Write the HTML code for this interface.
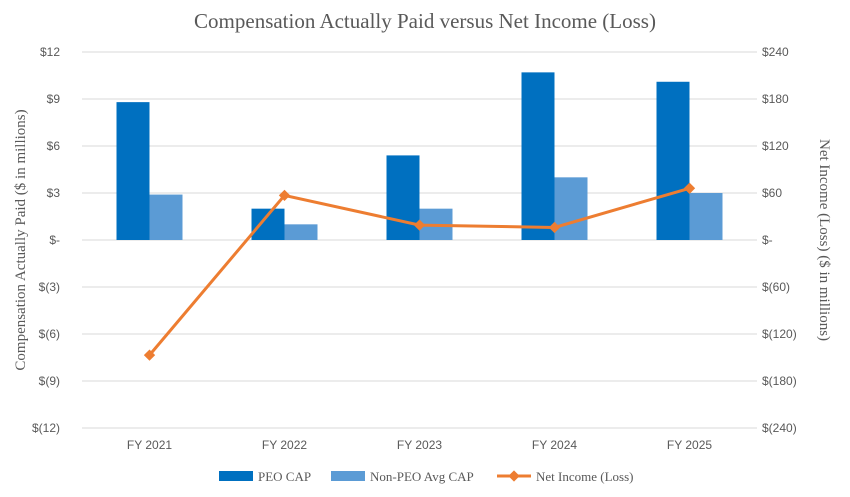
<!DOCTYPE html>
<html><head><meta charset="utf-8"><style>
body{margin:0;background:#fff;}
svg{display:block;}
</style></head><body>
<svg id="chart" width="850" height="497">
<text x="425" y="28" text-anchor="middle" font-family="Liberation Serif, serif" font-size="21" fill="#595959">Compensation Actually Paid versus Net Income (Loss)</text>
<g id="grid"></g><g id="bars"></g><g id="line"></g><g id="axes"></g>
<text transform="translate(25,240) rotate(-90)" text-anchor="middle" font-family="Liberation Serif, serif" font-size="15" fill="#595959">Compensation Actually Paid ($ in millions)</text>
<text transform="translate(820,240) rotate(90)" text-anchor="middle" font-family="Liberation Serif, serif" font-size="15" fill="#595959">Net Income (Loss) ($ in millions)</text>
<g font-family="Liberation Serif, serif" font-size="13" fill="#595959">
<rect x="219" y="471" width="34" height="10" fill="#0070C0"/>
<text x="258" y="481">PEO CAP</text>
<rect x="331" y="471" width="34" height="10" fill="#5B9BD5"/>
<text x="370" y="481">Non-PEO Avg CAP</text>
<line x1="497" y1="476" x2="531" y2="476" stroke="#ED7D31" stroke-width="3"/>
<rect x="510" y="472" width="8" height="8" fill="#ED7D31" transform="rotate(45 514 476)"/>
<text x="536" y="481">Net Income (Loss)</text>
</g>
</svg>
<script>
const categories=["FY 2021","FY 2022","FY 2023","FY 2024","FY 2025"];
const peoCap=[8.8,2.0,5.4,10.7,10.1];
const nonPeoCap=[2.9,1.0,2.0,4.0,3.0];
const netIncome=[-147,57,19,16,66];
const leftTicks=[12,9,6,3,0,-3,-6,-9,-12];
const leftTickLabels=["$12","$9","$6","$3","$-","$(3)","$(6)","$(9)","$(12)"];
const rightTicks=[240,180,120,60,0,-60,-120,-180,-240];
const rightTickLabels=["$240","$180","$120","$60","$-","$(60)","$(120)","$(180)","$(240)"];

const NS="http://www.w3.org/2000/svg";
const X0=82,X1=757,Y0=52,Y1=428;
const yL=v=>Y0+(12-v)/24*(Y1-Y0);
const yR=v=>Y0+(240-v)/480*(Y1-Y0);
const bw=(X1-X0)/categories.length;
const xC=i=>X0+bw*(i+0.5);
function mk(tag,attrs,parent){const e=document.createElementNS(NS,tag);for(const k in attrs)e.setAttribute(k,attrs[k]);document.getElementById(parent).appendChild(e);return e;}
leftTicks.forEach((t,i)=>{
 const g=mk('line',{x1:X0,x2:X1,y1:yL(t),y2:yL(t),stroke:'#D9D9D9','stroke-width':1},'grid');
 
 
 const l=mk('text',{x:60,y:yL(t)+4,'text-anchor':'end','font-family':'Liberation Sans, sans-serif','font-size':12,fill:'#595959'},'axes');
 l.textContent=leftTickLabels[i];
 
 
});
rightTicks.forEach((t,i)=>{
 const l=mk('text',{x:762,y:yR(t)+4,'text-anchor':'start','font-family':'Liberation Sans, sans-serif','font-size':12,fill:'#595959'},'axes');
 l.textContent=rightTickLabels[i];
 
 
});
const barW=33;
categories.forEach((c,i)=>{
 const x=xC(i);
 const b1=mk('rect',{x:x-barW,y:Math.min(yL(peoCap[i]),yL(0)),width:barW,height:Math.abs(yL(0)-yL(peoCap[i])),fill:'#0070C0'},'bars');
 
 
 const b2=mk('rect',{x:x,y:Math.min(yL(nonPeoCap[i]),yL(0)),width:barW,height:Math.abs(yL(0)-yL(nonPeoCap[i])),fill:'#5B9BD5'},'bars');
 
 
 const l=mk('text',{x:x,y:449,'text-anchor':'middle','font-family':'Liberation Sans, sans-serif','font-size':12,fill:'#595959'},'axes');
 l.textContent=c;
 
 
});
const pts=netIncome.map((v,i)=>xC(i)+','+yR(v)).join(' ');
const pl=mk('polyline',{points:pts,fill:'none',stroke:'#ED7D31','stroke-width':3},'line');


netIncome.forEach((v,i)=>{
 const m=mk('rect',{x:xC(i)-4,y:yR(v)-4,width:8,height:8,fill:'#ED7D31',transform:`rotate(45 ${xC(i)} ${yR(v)})`},'line');
 
 
});
</script>
</body></html>
